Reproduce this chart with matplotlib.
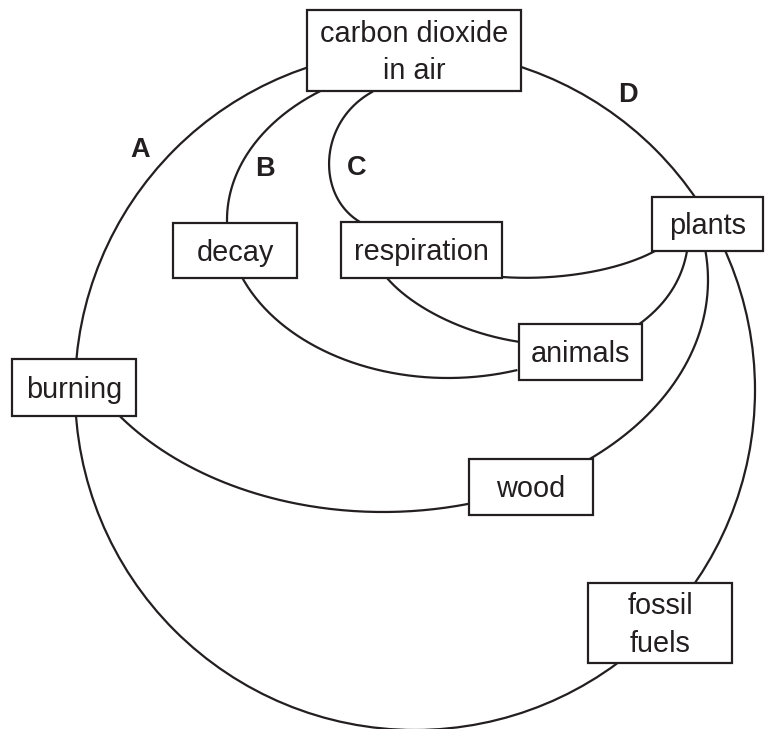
import numpy as np
import matplotlib.pyplot as plt
from matplotlib.patches import Rectangle, Circle

plt.rcParams['font.family'] = ['Liberation Sans', 'DejaVu Sans']

INK = '#231f20'

# node boxes: name, label, (left, top, right, bottom) in pixel coords
node_names = ['co2', 'decay', 'resp', 'plants', 'animals', 'burning', 'wood', 'fossil']
node_labels = ['carbon dioxide\nin air', 'decay', 'respiration', 'plants',
               'animals', 'burning', 'wood', 'fossil\nfuels']
node_boxes = [(307, 10, 521, 91), (173, 223, 297, 278), (341, 222, 502, 278),
              (652, 197, 763, 251), (519, 324, 642, 380), (12, 359, 136, 416),
              (469, 459, 593, 515), (588, 583, 732, 663)]

# pathway letters and positions
path_letters = ['A', 'B', 'C', 'D']
letter_pos = [(140, 150), (265, 169), (357, 168), (628, 95)]

# big loop (A / D / burning / fossil fuels): circle centre and radius
big_circle = (415, 390, 340)

# elliptical arcs: centre x, centre y, semi-axis a, semi-axis b, start deg, end deg
ellipse_arcs = [
    (448, 220, 221, 158, 72, 235),   # B: co2 -> decay -> animals
    (383, 280, 325, 232, -7, 145),   # plants -> wood -> burning
]

# cubic bezier links (p0, p1, p2, p3)
bezier_links = [
    [(372, 92), (318, 122), (316, 196), (360, 222)],   # C: co2 -> respiration
    [(502, 277), (560, 281), (620, 270), (655, 251)],  # respiration -> plants
    [(387, 278), (410, 305), (460, 333), (520, 342)],  # respiration -> animals
    [(687, 251), (682, 280), (666, 305), (638, 325)],  # plants -> animals
]

W, H = 765, 729
fig = plt.figure(figsize=(W / 100, H / 100), dpi=100)
ax = fig.add_axes([0, 0, 1, 1])
ax.set_xlim(0, W)
ax.set_ylim(H, 0)
ax.set_aspect('equal')
ax.axis('off')

lw = 1.6

cx, cy, r = big_circle
ax.add_patch(Circle((cx, cy), r, fill=False, ec=INK, lw=lw, zorder=1))

for ecx, ecy, a, b, t0, t1 in ellipse_arcs:
    t = np.radians(np.linspace(t0, t1, 300))
    ax.plot(ecx + a * np.cos(t), ecy + b * np.sin(t), color=INK, lw=lw, zorder=1)

for p in bezier_links:
    p = np.array(p, dtype=float)
    t = np.linspace(0, 1, 200)[:, None]
    pts = ((1 - t) ** 3 * p[0] + 3 * (1 - t) ** 2 * t * p[1]
           + 3 * (1 - t) * t ** 2 * p[2] + t ** 3 * p[3])
    ax.plot(pts[:, 0], pts[:, 1], color=INK, lw=lw, zorder=1)

for label, (x0, y0, x1, y1) in zip(node_labels, node_boxes):
    ax.add_patch(Rectangle((x0, y0), x1 - x0, y1 - y0, fc='white', ec=INK,
                           lw=lw, zorder=2))
    ax.text((x0 + x1) / 2, (y0 + y1) / 2 + 2, label, ha='center', va='center',
            fontsize=20.8, color=INK, linespacing=1.42, zorder=3)

for letter, (x, y) in zip(path_letters, letter_pos):
    ax.text(x, y, letter, ha='center', va='center', fontsize=19.5,
            fontweight='bold', color=INK, zorder=3)

fig.savefig('out.png', dpi=100, facecolor='white')
